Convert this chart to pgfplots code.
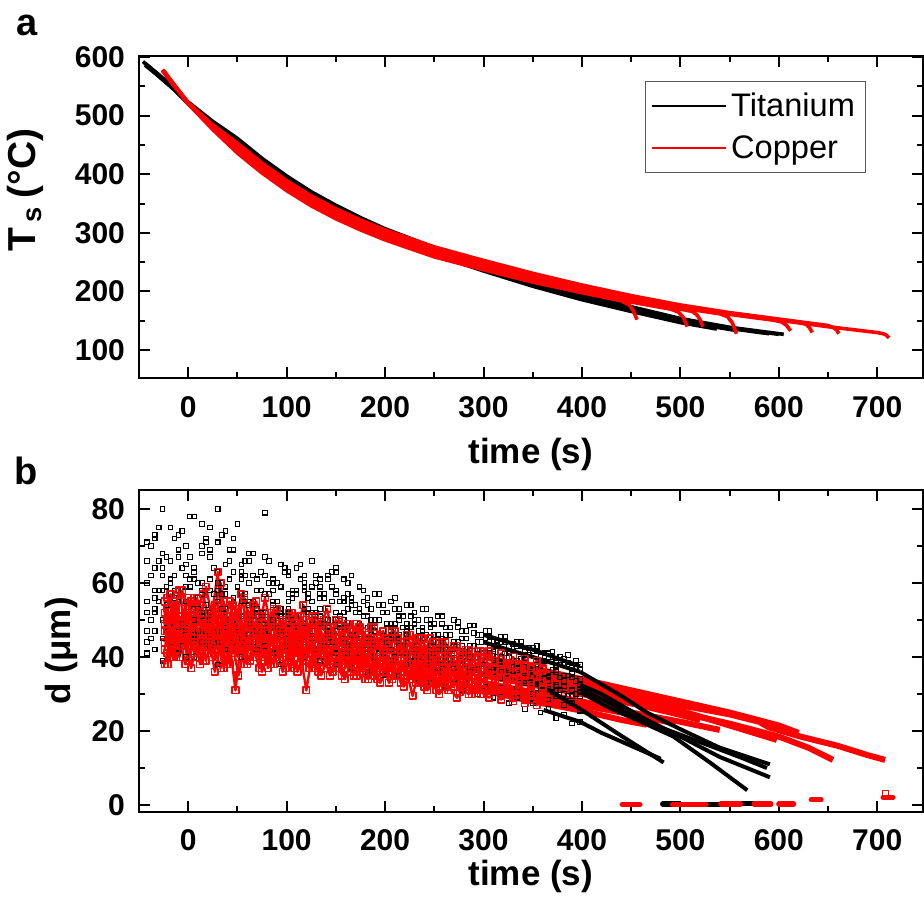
\documentclass[border=0pt]{standalone}
\usepackage{fontspec}
\setmainfont{Liberation Sans}
\usepackage{pgfplots}
\usepackage{pgfplotstable}
\pgfplotsset{compat=1.18}

\pgfplotstableread{
t c1 c2 c3 c4 c5 c6 c7 c8 c9
-42 71 52 44 55 41 66 60 66 47
-34 56 64 47 42 52 73 72 53 58
-26 68 50 58 45 39 80 64 62 50
-18 60 66 49 57 44 54 75 57 61
-10 73 58 41 48 55 67 58 69 48
-2 65 48 55 40 46 62 70 55 59
6 78 61 46 53 40 50 63 64 45
14 58 70 57 44 51 68 76 52 60
22 69 52 45 58 43 75 61 67 50
30 55 63 60 47 38 80 71 58 44
38 74 59 48 42 52 53 59 65 57
46 63 50 56 55 44 69 72 51 49
54 57 65 44 51 40 61 62 63 55
62 66 50 55 44 49 60 68 54 46
70 53 61 47 52 42 51 58 61 53
78 79 57 43 50 47 62 67 52 48
86 60 48 54 41 50 58 61 60 55
94 51 59 52 48 38 65 65 53 46
102 63 55 45 53 46 49 57 62 52
110 58 47 51 42 48 57 64 51 47
118 62 54 44 49 40 60 59 58 53
126 52 59 50 47 45 55 66 52 45
134 57 49 53 43 39 61 56 59 51
142 61 53 45 48 44 50 62 50 47
150 63 47 50 41 38 64 58 57 52
158 55 56 48 45 42 52 61 50 44
166 62 46 43 46 37 54 56 55 49
174 49 52 47 41 42 53 59 49 45
182 56 45 42 45 36 51 54 54 48
190 50 50 47 40 40 47 57 48 43
198 54 44 41 44 35 52 52 52 47
206 48 49 46 39 39 45 55 47 42
214 53 45 41 43 35 50 51 51 46
222 47 48 45 38 38 49 54 46 41
230 52 43 40 42 34 44 50 49 45
238 46 47 43 38 37 48 53 45 40
246 50 42 40 41 33 43 49 48 43
254 45 46 42 37 36 46 51 44 39
262 48 42 39 40 32 44 48 46 42
270 44 44 41 37 34 41 50 43 38
278 47 41 38 39 31 43 47 45 41
286 43 43 40 36 33 40 48.5 42 37.5
294 46 40 37 38 30 42 46 44 40
302 45 40 39 35 32 41 47 41.5 37
310 42 41.5 36 36.5 29 38 44 43 38.5
318 44 38.5 37.5 33 30.5 39.5 45.5 40 36
326 41 40 35 34.5 27.5 36.5 43 41.5 37
334 43 37 36.5 31.5 29 38 44 39 34.5
342 39.5 38.5 33.5 33 26 35 41.5 40.5 35.5
350 41.5 36 35 30 27.5 36.5 42.5 37.5 33
358 38 37.5 32 31 25 33.5 40 39 34
366 40 34.5 33.5 28.5 26 35 41 36 31.5
374 36.5 36 31 29.5 23.5 32 38.5 37.5 32.5
382 38 33.5 32 27 24.5 33.5 39.5 35 30
390 35.5 34.5 29.5 27.5 22 31 37 36 31
398 36.5 32.5 30.5 25.5 22.5 31.5 38 34 29.5
}\blacknoise

\pgfplotstableread{
t e1 e2 e3 e4
-38 70 50 62 45
-30 55 66 75 58
-22 67 54 59 48
-14 58 62 72 56
-6 74 49 64 43
2 61 67 78 59
10 53 56 60 47
18 72 47 71 54
26 64 64 57 44
34 57 53 73 60
42 69 61 66 50
50 59 48 76 46
58 66 57 62 55
66 55 62 68 44
74 63 50 58 52
82 60 57 66 47
90 52 60 55 51
98 64 51 63 43
106 57 56 58 50
114 61 49 65 45
122 53 57 56 52
130 60 52 62 42
138 56 48 57 49
146 59 55 63 44
154 51 49 55 48
162 57 53 60 41
170 52 47 54 46
178 55 51 58 42
186 50 46 53 45
194 54 50 57 41
202 49 45 52 44
210 53 49 56 40
218 48 44 51 43
226 51 48 54 39
234 47 43 50 42
242 50 46 53 38
250 46 44 49 41
258 49 45 51 38
266 46 42 48 39.5
274 48 44 49.5 37
282 45 41.5 47 38.5
290 46.5 43 48.5 36.5
298 44 41 46 38
306 45.5 42.5 47 36
314 43 40 44.5 36.5
322 44 41 45.5 34.5
330 41.5 38.5 43.5 35
338 43 39.5 44 33
346 40.5 37 42.5 33.5
354 41.5 38 43 31.5
362 39 35.5 41 32
370 40 36.5 41.5 30.5
378 38 34.5 40 31
386 38.5 35 40.5 29.5
394 37 33.5 39 30
}\blacknoiseB

\pgfplotstableread{
t r1 r2 r3 r4 r5 r6 r7
-24 55 42 49 47 38 52 44
-18 46 51 40 57 45 44 50
-12 53 44 47 50 40 54 42
-6 48 50 43 58 46 45 49
0 56 45 50 49 39 51 43
6 45 52 41 56 47 43 51
12 54 43 48 48 38 53 41
18 47 49 39 59 44 45 49
24 52 41 46 51 40 50 43
30 44 50 42 63 47 42 50
36 55 45 48 47 37 52 40
42 46 51 38 55 44 44 49
48 52 42 47 49 31 50 43
54 45 49 41 57 45 43 50
60 53 43 46 48 38 51 41
66 46 50 40 54 43 45 48
72 51 41 47 47 37 49 42
78 44 49 39 56 44 42 47
84 52 43 45 48 38 50 40
90 45 48 40 53 42 44 46
96 50 42 44 47 36 49 41
102 44 47 39 52 42 42 46
108 49 41 44 46 37 48 40
114 43 46 38 51 41 42 45
120 50 40 43 45 31 47 39
126 43 45 38 51 41 41 44
132 48 41 43 45 36 47 39
138 43 45 37 50 40 41 44
144 48 39 42 45 35 46 38
150 42 45 37 50 40 40 44
156 47 39 42 44 35 46 38
162 41 44 37 49 39 40 43
168 47 39 42 44 35 45 38
174 41 43 36 48 39 39 42
180 46 38 41 44 34 45 37
186 41 43 36 48 38 39 42
192 45 38 40 43 34 44 37
198 41 42 36 47 38 39 41
204 45 38 39 43 33 43 37
210 40 41 35 47 37 38 41
216 44 37 39 42 33 42 36
222 40 41 35 46 36 38 40
228 44 37 38 42 29.5 42 35
234 39 40 34 45 36 37 39
240 43 36 38 41 32 41 34
246 38 40 33 45 35 36 38
252 42 36 37 41 31 40 33
258 38 39 33 44 35 35 37
264 42 36 36 40 31 39 33
270 37 39 32 43 34 35 36
276 41 35 35.5 40 30.5 38 32
282 37 38 32 42 33 34 35
288 40 35 34.5 39.5 30 37 31
294 37 37.5 31.5 41.5 32.5 34 33.5
300 39 35 34 39 30 36 31
306 36 37 31 41.5 29 36.5 30
312 39 35 33.5 38.5 31 34 32
318 36 36.5 30.5 41 28.5 36 29.5
324 38.5 34.5 33 38 30.5 33.5 31.5
330 35.5 36 30 40 28 35.5 29
336 38 34 32.5 37.5 30 33 31
342 35 35.5 29.5 39.5 27.5 35 28.5
348 37.5 33.5 32 37 29.5 32.5 30.5
354 34.5 35 29 39 27 34.5 28
360 37 33 31.5 36.5 29 32 30
}\rednoise

\pgfplotstableread{
t s1 s2 s3 s4 s5 s6
-21 47 50 53 38 56 41
-15 55 40 44 46 51 49
-9 49 46 51 40 58 44
-3 53 38 46 45 49 52
3 45 47 43 37 55 47
9 56 43 52 44 52 40
15 48 39 47 39 57 50
21 52 49 41 46 50 44
27 44 42 54 36 53 47
33 54 37 45 43 60 42
39 49 45 50 38 47 51
45 46 41 42 44 54 45
51 53 47 48 35 51 40
57 47 38 44 42 56 48
63 51 44 50 39 49 43
69 45 40 46 44 55 46
75 52 46 40 36 51 41
81 48 37 47 41 47 47
87 44 43 44 38 53 43
93 50 40 49 43 50 39
99 47 45 42 37 46 46
105 51 38 46 41 52 42
111 45 43 43 36 48 45
117 49 39 48 40 54 40
123 46 44 41 37 47 44
129 50 37 45 42 51 41
135 44 42 47 35 49 45
141 48 39 42 39 53 39
147 46 43 45 36 46 43
153 43 38 43 40 50 40
159 48 41 46 34 48 44
165 45 36 41 38 45 38
171 47 40 44 35 49 42
177 43 37 42 39 47 39
183 46 39 45 34 44 41
189 44 35 40 37 48 37
195 45 38 43 33 46 40
201 42 36 41 36 44 38
207 45 39 39 34 47 36
213 43 35 42 35 45 39
219 41 37 40 32 43 37
225 44 34 38 35 46 35
231 42 36 41 33 43 38
237 40 33 39 34 45 36
243 43 35 37 31 42 34
249 41 34 40 33 44 37
255 39 32 38 30 42 35
261 42 35 36 32 44 33
267 40 33 39 31 41 36
273 38 34 37 29 43 34
279 41 32 35 31 40 32
285 39 33 38 30 42 35
291 37 31 36 32 40 33
297 40 33 37 30 41.5 34
}\rednoiseB

\pgfplotsset{
  myaxis/.style={
    scale only axis, width=391.75pt, height=161pt,
    xmin=-50, xmax=746,
    xtick={0,100,...,700}, minor x tick num=1,
    tick align=inside,
    major tick length=5.5pt, minor tick length=3pt,
    tick style={line width=1pt, black},
    axis line style={line width=1pt},
    tick label style={font=\fontsize{15}{18}\selectfont\bfseries},
    /pgf/number format/assume math mode=true,
    xticklabel style={yshift=-5.5pt},
    yticklabel style={xshift=-3.5pt},
    label style={font=\fontsize{17.5}{21}\selectfont\bfseries},
  },
  bn/.style={black, only marks, mark=square, mark size=1.15pt, line width=0.55pt, forget plot},
  rn/.style={red, mark=square, mark size=1.65pt, line width=1.2pt, mark options={line width=0.75pt}, line join=round, forget plot},
  rl/.style={red, line width=3pt, line join=round, forget plot},
  kl/.style={black, line width=2pt, line join=round, forget plot},
  ta/.style={black, line width=1.8pt, line join=round, forget plot},
  ca/.style={red, line width=1.8pt, line join=round, forget plot},
  z/.style={line width=2.6pt, line cap=round, forget plot},
}

\begin{document}
\begin{tikzpicture}
\path[use as bounding box] (0pt,0pt) rectangle (462pt,-451.5pt);

\node[font=\fontsize{19}{22}\selectfont\bfseries] at (13.3pt,-12.5pt) {a};
\node[font=\fontsize{19}{22}\selectfont\bfseries] at (13.3pt,-235.5pt) {b};

% ---------------- panel a ----------------
\begin{axis}[myaxis,
  at={(69.5pt,-189.15pt)}, anchor=south west,
  ymin=52, ymax=601,
  ytick={100,200,...,600}, minor y tick num=1,
  xlabel={time (s)}, ylabel={T\kern2.5pt\textsubscript{s}\kern4pt(°C)},
  xlabel style={at={(axis description cs:0.5,-0.235)}, anchor=center},
  ylabel style={at={(axis description cs:-0.145,0.585)}, anchor=center,
    font=\fontsize{19.5}{22}\selectfont\bfseries},
  legend style={at={(1,1)}, anchor=north east, xshift=-28.5pt, yshift=-12.5pt,
    draw=black!65, line width=0.5pt, font=\fontsize{16.3}{19}\selectfont,
    inner xsep=3pt, inner ysep=3.5pt, row sep=4pt, cells={anchor=west}},
  legend image code/.code={\draw[#1] (0pt,0pt) -- (37pt,0pt);},
]
\addlegendimage{black, line width=1pt}\addlegendentry{Titanium}
\addlegendimage{red, line width=1pt}\addlegendentry{Copper}

\addplot[ta] coordinates {(-46,592)(-30,570)(-15,548)(0,523)(25,490)(50,461)(75,427)(100,397)(125,370)(150,347)(175,326)(200,307)(250,275)(300,247)(350,221)(400,197)(450,174)(500,154)(550,139)(605,127)};
\addplot[ta] coordinates {(-44,589)(-30,569)(-15,547)(0,522)(25,488)(50,458)(75,424)(100,394)(125,367)(150,344)(175,323)(200,304)(250,272)(300,244)(350,218)(400,195)(450,172)(500,153)(550,138)(600,127)};
\addplot[ta] coordinates {(-44,586)(-30,567)(-15,546)(0,521)(25,487)(50,455)(75,421)(100,391)(125,364)(150,341)(175,320)(200,301)(250,269)(300,241)(350,215)(400,192)(450,170)(500,151)(550,137)(590,128)};
\addplot[ta] coordinates {(-42,586)(-30,568)(-15,546)(0,521)(25,485)(50,452)(75,418)(100,388)(125,361)(150,338)(175,317)(200,298)(250,266)(300,238)(350,212)(400,189)(450,168)(500,149)(555,134)};
\addplot[ta] coordinates {(-40,583)(-30,567)(-15,545)(0,520)(25,484)(50,449)(75,415)(100,385)(125,358)(150,335)(175,314)(200,295)(250,263)(300,235)(350,209)(400,186)(450,166)(500,147)(537,136)};

\addplot[ca] coordinates {(-26,577)(-15,553)(0,520)(25,476)(50,436)(75,402)(100,372)(125,346)(150,324)(175,305)(200,288)(250,259)(300,237)(350,216)(400,198)(440,184)(448,177)(452,168)(456,152)};
\addplot[ca] coordinates {(-26,576)(-15,552)(0,520)(25,477)(50,439)(75,405)(100,375)(125,349)(150,327)(175,308)(200,291)(250,262)(300,240)(350,219)(400,200)(450,182)(490,170)(498,165)(503,156)(507,140)};
\addplot[ca] coordinates {(-26,577)(-15,553)(0,520)(25,478)(50,442)(75,408)(100,378)(125,352)(150,330)(175,311)(200,294)(250,265)(300,243)(350,222)(400,203)(450,185)(500,170)(512,166)(517,160)(520,152)(523,140)};
\addplot[ca] coordinates {(-25,576)(-15,553)(0,520)(25,480)(50,445)(75,411)(100,381)(125,355)(150,333)(175,314)(200,297)(250,268)(300,246)(350,225)(400,206)(450,188)(500,172)(540,162)(548,157)(553,146)(557,128)};
\addplot[ca] coordinates {(-26,578)(-15,554)(0,521)(25,482)(50,448)(75,414)(100,384)(125,358)(150,336)(175,317)(200,300)(250,271)(300,249)(350,228)(400,208)(450,190)(500,174)(550,161)(595,151)(603,148)(608,142)(612,133)};
\addplot[ca] coordinates {(-26,578)(-15,554)(0,521)(25,483)(50,451)(75,417)(100,387)(125,361)(150,339)(175,320)(200,303)(250,274)(300,252)(350,230)(400,210)(450,192)(500,176)(550,163)(600,152)(622,147)(628,144)(631,139)(634,130)};
\addplot[ca] coordinates {(-25,577)(-15,554)(0,522)(25,484)(50,453)(75,419)(100,389)(125,363)(150,341)(175,322)(200,305)(250,276)(300,253)(350,231)(400,211)(450,193)(500,177)(550,164)(600,153)(650,142)(656,138)(659,134)(661,128)};
\addplot[ca] coordinates {(-26,577)(-15,553)(0,521)(25,481)(50,448)(75,414)(100,384)(125,358)(150,336)(175,317)(200,300)(250,271)(300,249)(350,228)(400,209)(450,191)(500,175)(550,162)(600,151)(650,140)(700,130)(706,128)(709,126)(712,121)};
\end{axis}

% ---------------- panel b ----------------
\begin{axis}[myaxis,
  at={(69.5pt,-405.85pt)}, anchor=south west,
  ymin=-1.8, ymax=85.2,
  ytick={0,20,...,80}, minor y tick num=1,
  xlabel={time (s)}, ylabel={d (μm)},
  xlabel style={at={(axis description cs:0.5,-0.2)}, anchor=center},
  ylabel style={at={(axis description cs:-0.0995,0.5)}, anchor=center},
]
\addplot[bn] table[x=t,y=c1]{\blacknoise};
\addplot[bn] table[x=t,y=c2]{\blacknoise};
\addplot[bn] table[x=t,y=c3]{\blacknoise};
\addplot[bn] table[x=t,y=c4]{\blacknoise};
\addplot[bn] table[x=t,y=c5]{\blacknoise};
\addplot[bn] table[x=t,y=c6]{\blacknoise};
\addplot[bn] table[x=t,y=c7]{\blacknoise};
\addplot[bn] table[x=t,y=c8]{\blacknoise};
\addplot[bn] table[x=t,y=c9]{\blacknoise};
\addplot[bn] table[x=t,y=e1]{\blacknoiseB};
\addplot[bn] table[x=t,y=e2]{\blacknoiseB};
\addplot[bn] table[x=t,y=e3]{\blacknoiseB};
\addplot[bn] table[x=t,y=e4]{\blacknoiseB};

\addplot[kl] coordinates {(300,44)(350,40)(398,36)};
\addplot[kl] coordinates {(300,46)(350,42)(398,37.5)};

\addplot[rn] table[x=t,y=r1]{\rednoise};
\addplot[rn] table[x=t,y=r2]{\rednoise};
\addplot[rn] table[x=t,y=r3]{\rednoise};
\addplot[rn] table[x=t,y=r4]{\rednoise};
\addplot[rn] table[x=t,y=r5]{\rednoise};
\addplot[rn] table[x=t,y=r6]{\rednoise};
\addplot[rn] table[x=t,y=r7]{\rednoise};
\addplot[rn] table[x=t,y=s1]{\rednoiseB};
\addplot[rn] table[x=t,y=s2]{\rednoiseB};
\addplot[rn] table[x=t,y=s3]{\rednoiseB};
\addplot[rn] table[x=t,y=s4]{\rednoiseB};
\addplot[rn] table[x=t,y=s5]{\rednoiseB};
\addplot[rn] table[x=t,y=s6]{\rednoiseB};

\addplot[rl] coordinates {(300,38)(350,35.5)(400,32.5)(450,30)(500,27)(550,24.5)(580,22.5)(590,21)(622,18.5)(660,16)(690,13.5)(708,12.2)};
\addplot[rl] coordinates {(300,36)(350,33.5)(400,30.5)(450,27.5)(500,25)(550,22)(600,18.5)(630,15.5)(655,12.2)};
\addplot[rl] coordinates {(300,37)(350,34.5)(400,31.5)(450,29)(500,25.5)(550,21.5)(598,17.6)};
\addplot[rl] coordinates {(300,40)(350,37)(400,34)(450,31)(500,28)(550,25)(600,21.5)(620,19.5)};
\addplot[rl] coordinates {(300,33)(350,30.5)(400,28)(450,25)(500,22.5)(540,20.3)};
\addplot[rl] coordinates {(300,31)(350,28)(400,25.5)(440,23)(466,21.7)};
\addplot[rl] coordinates {(300,35)(350,32.5)(400,30)(450,27.5)(490,25)(520,23)};
\addplot[rl] coordinates {(300,32)(350,29.5)(400,27)(450,24.5)(495,22)};

\addplot[kl] coordinates {(398,36)(440,29.5)(466,25)(500,20.5)(540,15.5)(591,11)};
\addplot[kl] coordinates {(398,32.5)(420,30)(466,23)(500,18.5)(540,13)(591,7.5)};
\addplot[kl] coordinates {(398,30.5)(430,26)(460,22.5)(493,18.5)(530,11.5)(568,4)};
\addplot[kl] coordinates {(344,34.5)(398,26)(440,18.7)(483,11.5)};
\addplot[kl] coordinates {(361,25.7)(398,22.5)(420,19.5)(450,16)(480,12.5)};
\addplot[kl] coordinates {(398,31.5)(440,26)(480,21)(520,17)(560,13)(588,10)};

\addplot[z, black] coordinates {(482,0.3)(498,0.3)};
\addplot[z, black] coordinates {(526,0.2)(541,0.2)};
\addplot[z, black] coordinates {(543,0.3)(553,0.3)};
\addplot[z, black] coordinates {(563,0.5)(580,0.5)};
\addplot[z, red] coordinates {(441,0.2)(459,0.2)};
\addplot[z, red] coordinates {(492,0.2)(526,0.2)};
\addplot[z, red] coordinates {(541,0.3)(561,0.3)};
\addplot[z, red] coordinates {(575,0.3)(592,0.3)};
\addplot[z, red] coordinates {(600,0.3)(615,0.3)};
\addplot[z, red] coordinates {(633,1.4)(643,1.4)};
\addplot[z, red] coordinates {(706,2.1)(716,2.1)};
\addplot[red, only marks, mark=square, mark size=1.5pt, line width=0.6pt, forget plot] coordinates {(708,3.2)};
\end{axis}
\end{tikzpicture}
\end{document}
